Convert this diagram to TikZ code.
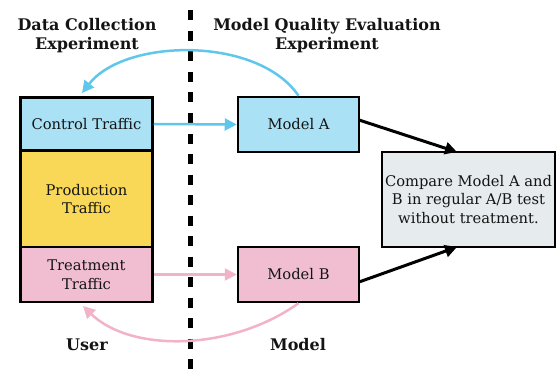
\documentclass[tikz,border=0pt]{standalone}
\usepackage{fontspec}
\setmainfont{DejaVu Serif}
\usetikzlibrary{arrows.meta}
\definecolor{ctrlfill}{RGB}{170,225,245}
\definecolor{prodfill}{RGB}{249,216,88}
\definecolor{treatfill}{RGB}{240,190,208}
\definecolor{cmpfill}{RGB}{230,235,238}
\definecolor{bluearr}{RGB}{95,199,236}
\definecolor{pinkarr}{RGB}{242,178,200}
\definecolor{txt}{RGB}{20,20,20}
\tikzset{
  box/.style={draw=black, line width=2.5pt, inner sep=0pt, text=txt, align=center,
    font=\fontsize{14.7}{18.5}\selectfont},
  head/.style={text=txt, align=center, font=\fontsize{16}{19.5}\selectfont\bfseries},
  barr/.style={draw=bluearr, line width=2.5pt, -{Triangle[length=12pt,width=12pt]}},
  parr/.style={draw=pinkarr, line width=2.5pt, -{Triangle[length=12pt,width=12pt]}},
  karr/.style={draw=black, line width=3pt, -{Triangle[length=12pt,width=12pt]}},
}
\begin{document}
\begin{tikzpicture}[x=1pt,y=-1pt]
\useasboundingbox (0,0) rectangle (556,377);
% dashed divider
\coordinate (dtop) at (190,10.5);
\coordinate (dbot) at (190,377);
\draw[line width=5pt, dash pattern=on 10pt off 10.5pt] (dtop) -- (dbot);
% boxes
\node[box, fill=prodfill, minimum width=132pt, minimum height=97pt] (prod) at (86.5,199) {Production\\Traffic};
\node[box, fill=ctrlfill, minimum width=132pt, minimum height=53pt] (ctrl) at (86.5,124) {Control Traffic};
\node[box, fill=treatfill, minimum width=132pt, minimum height=55pt] (treat) at (86.5,274.5) {Treatment\\Traffic};
\node[box, fill=ctrlfill, minimum width=121pt, minimum height=55pt] (ma) at (298.5,124.5) {Model A};
\node[box, fill=treatfill, minimum width=121pt, minimum height=55pt] (mb) at (298.5,274.5) {Model B};
\node[box, fill=cmpfill, minimum width=173pt, minimum height=95pt] (cmp) at (468.5,199.5) {Compare Model A and\\B in regular A/B test\\without treatment.};
% headings
\node[head] (h1) at (87,35.5) {Data Collection\\Experiment};
\node[head] (h2) at (327,35.5) {Model Quality Evaluation\\Experiment};
\node[head] (user) at (87,345) {User};
\node[head] (model) at (298,345) {Model};
% arrows
\draw[barr] (ctrl.east) -- (ma.west);
\draw[parr] (treat.east) -- (mb.west);
\draw[barr] (ma.north) .. controls (258,36) and (125,38) .. (82,93);
\draw[parr] (mb.south) .. controls (230,352) and (130,352) .. (83,306);
\coordinate (cta) at (457,152);
\coordinate (ctb) at (457,247);
\draw[karr] (359,120) -- (cta);
\draw[karr] (359,282) -- (ctb);
\end{tikzpicture}
\end{document}
